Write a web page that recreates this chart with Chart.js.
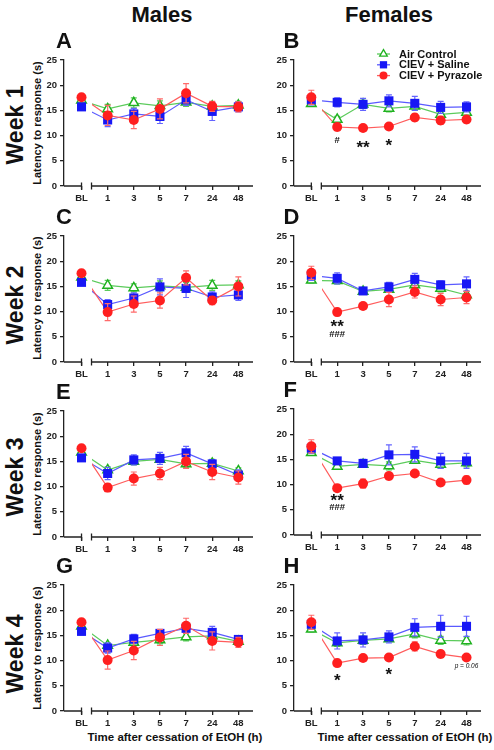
<!DOCTYPE html>
<html>
<head>
<meta charset="utf-8">
<script src="https://cdn.jsdelivr.net/npm/chart.js@4.4.1/dist/chart.umd.min.js"></script>
<style>
  body { margin: 0; width: 494px; height: 750px; position: relative; overflow: hidden; background: #fff;
         font-family: "Liberation Sans", Arial, sans-serif; font-weight: bold; color: #111; }
  .txt { position: absolute; line-height: 1; white-space: nowrap; }
  .rot { position: absolute; line-height: 1; white-space: nowrap; transform: translate(-50%, -50%) rotate(-90deg); }
  .panel { position: absolute; }
  .panel canvas { display: block; }
</style>
</head>
<body>
<div class="txt" style="left:162px;top:4px;font-size:22px;transform:translateX(-50%)">Males</div>
<div class="txt" style="left:389px;top:4px;font-size:22px;transform:translateX(-50%)">Females</div>

<div class="rot" style="left:15px;top:125px;font-size:23px">Week 1</div>
<div class="rot" style="left:15px;top:305px;font-size:23px">Week 2</div>
<div class="rot" style="left:15px;top:477px;font-size:23px">Week 3</div>
<div class="rot" style="left:15px;top:654px;font-size:23px">Week 4</div>

<div class="rot" style="left:37px;top:123px;font-size:11px">Latency to response (s)</div>
<div class="rot" style="left:37px;top:298px;font-size:11px">Latency to response (s)</div>
<div class="rot" style="left:37px;top:474px;font-size:11px">Latency to response (s)</div>
<div class="rot" style="left:37px;top:648px;font-size:11px">Latency to response (s)</div>

<div class="txt" style="left:175px;top:732px;font-size:11.5px;transform:translateX(-50%)">Time after cessation of EtOH (h)</div>
<div class="txt" style="left:405px;top:732px;font-size:11.5px;transform:translateX(-50%)">Time after cessation of EtOH (h)</div>

<script>
const timeLabels = ['BL', '1', '3', '5', '7', '24', '48'];
const panelIds = ['A', 'B', 'C', 'D', 'E', 'F', 'G', 'H'];
const seriesNames = ['Air Control', 'CIEV + Saline', 'CIEV + Pyrazole'];

// one row per panel, A..H
const airMean = [
  [17.0, 15.3, 16.5, 15.9, 16.6, 15.8, 16.0],
  [16.3, 13.2, 16.2, 15.4, 15.8, 14.2, 14.6],
  [16.8, 15.2, 14.7, 15.1, 14.8, 15.2, 15.3],
  [16.2, 16.1, 14.0, 14.4, 15.3, 14.6, 13.3],
  [16.8, 13.3, 15.0, 15.4, 14.5, 14.6, 13.1],
  [16.3, 13.6, 14.0, 13.7, 14.8, 14.0, 14.3],
  [16.8, 13.0, 13.6, 14.1, 14.7, 14.9, 13.8],
  [16.2, 13.5, 14.0, 14.3, 15.3, 14.0, 13.9]
];
const airSem = [
  [0.5, 0.9, 1.0, 1.0, 0.8, 0.8, 0.8],
  [0.5, 0.6, 0.8, 0.7, 0.8, 0.7, 0.7],
  [0.5, 1.0, 0.8, 1.0, 1.0, 1.0, 0.8],
  [0.5, 0.6, 0.5, 0.6, 0.7, 0.7, 0.7],
  [0.5, 0.6, 0.7, 0.6, 0.8, 0.8, 0.6],
  [0.5, 0.6, 0.6, 0.8, 0.6, 0.8, 0.8],
  [0.5, 0.5, 0.6, 0.8, 0.8, 0.8, 0.5],
  [0.5, 0.7, 0.8, 0.5, 0.8, 0.8, 0.8]
];
const salineMean = [
  [15.7, 13.1, 14.3, 13.8, 17.1, 14.8, 15.7],
  [17.1, 16.6, 16.2, 16.9, 16.4, 15.6, 15.7],
  [15.8, 11.4, 12.7, 14.9, 14.6, 12.9, 13.3],
  [17.2, 16.6, 14.1, 14.9, 16.4, 15.3, 15.5],
  [15.7, 12.6, 15.3, 15.6, 16.7, 14.5, 12.3],
  [17.2, 14.7, 14.2, 15.9, 16.0, 14.7, 14.7],
  [15.8, 12.5, 14.3, 15.4, 16.4, 15.6, 14.2],
  [17.2, 13.9, 14.1, 14.7, 16.6, 16.8, 16.8]
];
const salineSem = [
  [0.7, 1.3, 1.1, 1.4, 1.1, 1.8, 1.0],
  [1.0, 0.9, 1.2, 1.2, 1.4, 1.2, 1.0],
  [0.6, 1.0, 1.0, 1.6, 1.8, 1.0, 1.1],
  [1.0, 1.1, 0.6, 0.9, 1.2, 0.8, 1.4],
  [0.6, 1.2, 1.0, 1.2, 1.3, 0.8, 1.0],
  [1.0, 0.6, 0.8, 2.0, 1.5, 1.5, 1.5],
  [0.7, 1.0, 0.9, 0.7, 1.0, 1.2, 0.6],
  [1.0, 1.6, 1.4, 1.2, 1.7, 2.2, 2.0]
];
const pyrazoleMean = [
  [17.6, 14.0, 13.1, 15.3, 18.4, 15.8, 15.7],
  [17.6, 11.7, 11.5, 11.8, 13.6, 13.0, 13.2],
  [17.6, 9.9, 11.5, 12.2, 16.7, 12.2, 15.0],
  [17.7, 9.9, 11.1, 12.4, 13.9, 12.4, 12.8],
  [17.6, 9.8, 11.6, 12.6, 15.0, 12.9, 11.8],
  [17.6, 9.3, 10.2, 11.7, 12.2, 10.4, 10.9],
  [17.6, 10.1, 12.0, 14.6, 16.9, 13.9, 13.6],
  [17.6, 9.5, 10.5, 10.6, 12.8, 11.3, 10.6]
];
const pyrazoleSem = [
  [0.6, 2.0, 1.7, 2.0, 1.9, 1.0, 1.0],
  [1.4, 0.7, 0.6, 0.4, 0.7, 0.8, 0.7],
  [0.6, 1.7, 1.6, 1.5, 1.4, 0.8, 1.9],
  [1.3, 0.7, 0.6, 1.4, 1.2, 1.2, 1.2],
  [0.6, 0.8, 1.3, 1.2, 1.4, 1.5, 1.3],
  [1.3, 0.5, 0.9, 0.7, 0.4, 0.6, 0.8],
  [0.6, 1.8, 1.8, 1.6, 1.5, 1.8, 1.0],
  [1.4, 0.6, 0.6, 0.3, 0.9, 0.7, 0.3]
];

// significance marks: panel, time index, height (s), text
const sigPanel = ['B', 'B', 'B', 'D', 'D', 'F', 'F', 'H', 'H', 'H'];
const sigAt = [1, 2, 3, 1, 1, 1, 1, 1, 3, 6];
const sigHeight = [9.1, 8.5, 8.8, 7.8, 5.7, 7.7, 5.6, 6.9, 8.0, 8.8];
const sigText = ['#', '**', '*', '**', '###', '**', '###', '*', '*', 'p = 0.06'];

// layout
const plotTops = [60, 60, 236, 236, 411, 409, 585, 585];
const axisColor = '#222';
const FONT = '"Liberation Sans", Arial, sans-serif';

const looks = [
  { mark: '#1fb21f', line: '#5ccb5c', err: '#5ccb5c', style: 'triangle', r: 5.5, fill: '#fff', bw: 1.5 },
  { mark: '#1717f5', line: '#5a5aff', err: '#6464ff', style: 'rect', r: 6.4, fill: '#1717f5', bw: 0 },
  { mark: '#ff1f1f', line: '#ff5c5c', err: '#ff6a6a', style: 'circle', r: 5, fill: '#ff1f1f', bw: 0 }
];

const errorBars = {
  id: 'errorBars',
  beforeDatasetDraw(chart, args) {
    const ds = chart.data.datasets[args.index];
    if (!ds.sem) return;
    const { ctx } = chart;
    const { x, y } = chart.scales;
    ctx.save();
    ctx.strokeStyle = ds.errColor;
    ctx.lineWidth = 1.2;
    ds.data.forEach((pt, i) => {
      const px = x.getPixelForValue(pt.x);
      const top = y.getPixelForValue(pt.y + ds.sem[i]);
      const bot = y.getPixelForValue(pt.y - ds.sem[i]);
      ctx.beginPath();
      ctx.moveTo(px, top); ctx.lineTo(px, bot);
      ctx.moveTo(px - 3, top); ctx.lineTo(px + 3, top);
      ctx.moveTo(px - 3, bot); ctx.lineTo(px + 3, bot);
      ctx.stroke();
    });
    ctx.restore();
  }
};

const brokenAxis = {
  id: 'brokenAxis',
  afterDraw(chart) {
    const { ctx, chartArea } = chart;
    const x = chart.scales.x;
    const y0 = chartArea.bottom;
    const bl = x.getPixelForValue(0);
    const restart = bl + 10;
    ctx.save();
    ctx.strokeStyle = axisColor;
    ctx.lineWidth = 1.3;
    ctx.beginPath();
    ctx.moveTo(chartArea.left, y0); ctx.lineTo(bl, y0);
    ctx.moveTo(bl, y0 - 3.5); ctx.lineTo(bl, y0 + 3.5);
    ctx.moveTo(restart, y0 - 3.5); ctx.lineTo(restart, y0 + 3.5);
    ctx.moveTo(restart, y0); ctx.lineTo(chartArea.right, y0);
    ctx.stroke();
    ctx.restore();
  }
};

const sigMarks = {
  id: 'sigMarks',
  afterDatasetsDraw(chart, args, opts) {
    const { ctx } = chart;
    const { x, y } = chart.scales;
    ctx.save();
    ctx.fillStyle = '#111';
    ctx.textAlign = 'center';
    ctx.textBaseline = 'alphabetic';
    sigPanel.forEach((p, k) => {
      if (p !== opts.panel) return;
      const t = sigText[k];
      let size = 17, lift = 0.56, font = 'bold';
      if (t.includes('#')) { size = 9.5; lift = 0.35; }
      if (t.startsWith('p')) { size = 6.5; lift = 0.25; font = 'italic'; }
      ctx.font = font + ' ' + size + 'px ' + FONT;
      ctx.fillText(t, x.getPixelForValue(sigAt[k]), y.getPixelForValue(sigHeight[k]) + lift * size);
    });
    ctx.restore();
  }
};

const legendBox = {
  id: 'legendBox',
  afterDraw(chart, args, opts) {
    if (!opts.show) return;
    const { ctx } = chart;
    ctx.save();
    seriesNames.forEach((name, k) => {
      const lk = looks[k];
      const yy = 14 + k * 10.8;
      ctx.strokeStyle = lk.line;
      ctx.lineWidth = 1.3;
      ctx.beginPath(); ctx.moveTo(117, yy); ctx.lineTo(130, yy); ctx.stroke();
      ctx.fillStyle = lk.fill;
      ctx.strokeStyle = lk.mark;
      Chart.helpers.drawPoint(ctx, { pointStyle: lk.style, radius: lk.r * 0.8, borderWidth: lk.bw, rotation: 0 }, 123.5, yy);
      ctx.fillStyle = '#111';
      ctx.font = 'bold 11px ' + FONT;
      ctx.textBaseline = 'middle';
      ctx.fillText(name, 139, yy + 0.5);
    });
    ctx.restore();
  }
};

const tickFont = { family: FONT, size: 9.5, weight: 'bold' };

panelIds.forEach((id, p) => {
  const col = p % 2;
  const w = col ? 228 : 230;
  const h = 168;
  const box = document.createElement('div');
  box.className = 'panel';
  box.style.left = (col ? 260 : 30) + 'px';
  box.style.top = (plotTops[p] - 20) + 'px';
  const cv = document.createElement('canvas');
  cv.width = w; cv.height = h;
  box.appendChild(cv);
  document.body.appendChild(box);

  const letter = document.createElement('div');
  letter.className = 'txt';
  letter.textContent = id;
  letter.style.fontSize = '22px';
  letter.style.left = (col ? 283.5 : 56) + 'px';
  letter.style.top = (plotTops[p] - 29.8) + 'px';
  document.body.appendChild(letter);

  const means = [airMean[p], salineMean[p], pyrazoleMean[p]];
  const sems = [airSem[p], salineSem[p], pyrazoleSem[p]];
  const markerSets = [];
  const lineSets = [];
  means.forEach((m, s) => {
    const lk = looks[s];
    const pts = m.map((v, i) => ({ x: i, y: v }));
    markerSets.push({
      label: seriesNames[s], data: pts, sem: sems[s], errColor: lk.err,
      showLine: false, pointStyle: lk.style, pointRadius: lk.r,
      pointBackgroundColor: lk.fill, pointBorderColor: lk.mark, pointBorderWidth: lk.bw,
      order: 2 - s, clip: false
    });
    lineSets.push({
      label: seriesNames[s] + ' line', data: pts, borderColor: lk.line, borderWidth: 1.2,
      pointRadius: 0, fill: false, tension: 0, order: 5 - s,
      clip: { left: -28, top: false, right: false, bottom: false }
    });
  });

  new Chart(cv, {
    type: 'line',
    data: { datasets: [...markerSets, ...lineSets] },
    options: {
      responsive: false,
      animation: false,
      events: [],
      layout: { padding: { top: 20, right: 4, left: 0, bottom: 0 } },
      plugins: {
        legend: { display: false },
        tooltip: { enabled: false },
        sigMarks: { panel: id },
        legendBox: { show: id === 'B' }
      },
      scales: {
        x: {
          type: 'linear', min: -0.67, max: 6.56,
          afterBuildTicks: s => { s.ticks = timeLabels.map((_, i) => ({ value: i })); },
          afterFit: s => { s.height = 22; },
          ticks: { callback: v => timeLabels[v], font: tickFont, color: axisColor, padding: 3, autoSkip: false, maxRotation: 0 },
          grid: { display: true, drawOnChartArea: false, drawTicks: true, tickLength: 4, color: axisColor, lineWidth: 1.3 },
          border: { display: false }
        },
        y: {
          min: 0, max: 25,
          afterFit: s => { s.width = 34; },
          ticks: { stepSize: 5, font: tickFont, color: axisColor, padding: 3 },
          grid: { drawOnChartArea: false, drawTicks: true, tickLength: 4, color: axisColor, lineWidth: 1.3 },
          border: { display: true, color: axisColor, width: 1.3 }
        }
      }
    },
    plugins: [errorBars, brokenAxis, sigMarks, legendBox]
  });
});
</script>
</body>
</html>
